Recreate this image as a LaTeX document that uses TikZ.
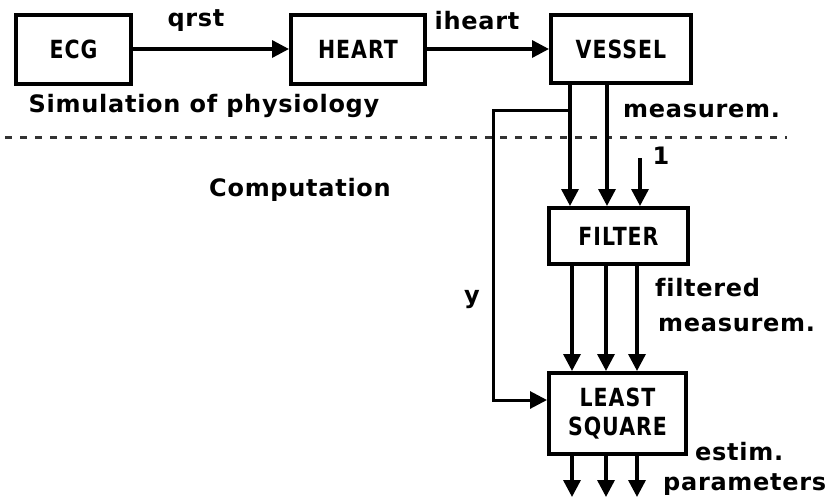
\documentclass[tikz,border=0pt]{standalone}
\usepackage{fontspec}
\setmainfont{DejaVu Sans}
\newfontfamily\capfont[FakeStretch=0.82,LetterSpace=4]{DejaVu Sans}
\newfontfamily\lowfont[LetterSpace=3,Ligatures=NoCommon]{DejaVu Sans}
\usetikzlibrary{arrows.meta,calc}
\begin{document}
\begin{tikzpicture}[x=1pt,y=-1pt,
  box/.style={draw,line width=4pt,minimum width=#1,inner sep=0pt,font=\capfont\bfseries\fontsize{25}{28}\selectfont},
  lbl/.style={font=\lowfont\bfseries\fontsize{24}{27}\selectfont,inner sep=0pt},
  conn/.style={line width=3.4pt,-{Triangle[length=17pt,width=17pt]}}]
\useasboundingbox (0,0) rectangle (828,499);
\node[box=115pt,minimum height=69pt] (ECG) at (73.5,49) {ECG};
\node[box=134pt,minimum height=69pt] (HEART) at (358,49) {HEART};
\node[box=140pt,minimum height=68pt] (VESSEL) at (621,49) {VESSEL};
\node[box=139pt,minimum height=56pt] (FILTER) at (618.5,236) {FILTER};
\node[box=137pt,minimum height=81pt,align=center] (LS) at (617.5,413.5) {LEAST\\[1pt]SQUARE};
\draw[conn] (ECG.east) -- (HEART.west);
\draw[conn] (HEART.east) -- (VESSEL.west);
\node[lbl] (qrst) at (196,21) {qrst};
\node[lbl] (iheart) at (477,21) {iheart};
\node[lbl] (sim) at (204,106) {Simulation of physiology};
\node[lbl] (comp) at (300,190) {Computation};
\draw[line width=3pt,dash pattern=on 7pt off 8pt,black!80] (5,137) coordinate (d1) -- (787,137) coordinate (d2);
% vessel outputs
\coordinate (v1) at ([xshift=21pt]VESSEL.south west);
\coordinate (v2) at ([xshift=58pt]VESSEL.south west);
\draw[conn] (v1) -- (v1 |- FILTER.north);
\draw[conn] (v2) -- (v2 |- FILTER.north);
\node[lbl,anchor=west] (meas) at (623,111) {measurem.};
% y feedback
\coordinate (yc) at (493,110);
\coordinate (yb) at (v1 |- yc);
\coordinate (lsin) at ([yshift=13.5pt]LS.west);
\draw[conn,line width=3pt] (yb) -- (yc) -- (yc |- lsin) -- (lsin);
\node[lbl] (ylab) at (472,300) {y};
% input 1
\coordinate (in1) at (640,158);
\draw[conn] (in1) -- (in1 |- FILTER.north);
\node[lbl] (one) at (661,156) {1};
% filter outputs
\foreach \i/\dx in {1/25,2/59,3/90}{
  \coordinate (f\i) at ([xshift=\dx pt]FILTER.south west);
  \draw[conn] (f\i) -- (f\i |- LS.north);
  \coordinate (l\i) at ([xshift=\dx pt]LS.south west);
  \coordinate (o\i) at ($(l\i)+(0,41)$);
  \draw[conn] (l\i) -- (o\i);
}
\node[lbl,anchor=west] (filt) at (655,288) {filtered};
\node[lbl,anchor=west] (meas2) at (658,325) {measurem.};
\node[lbl,anchor=west] (estim) at (695,452) {estim.};
\node[lbl,anchor=west] (par) at (663,485) {parameters};
\end{tikzpicture}
\end{document}
